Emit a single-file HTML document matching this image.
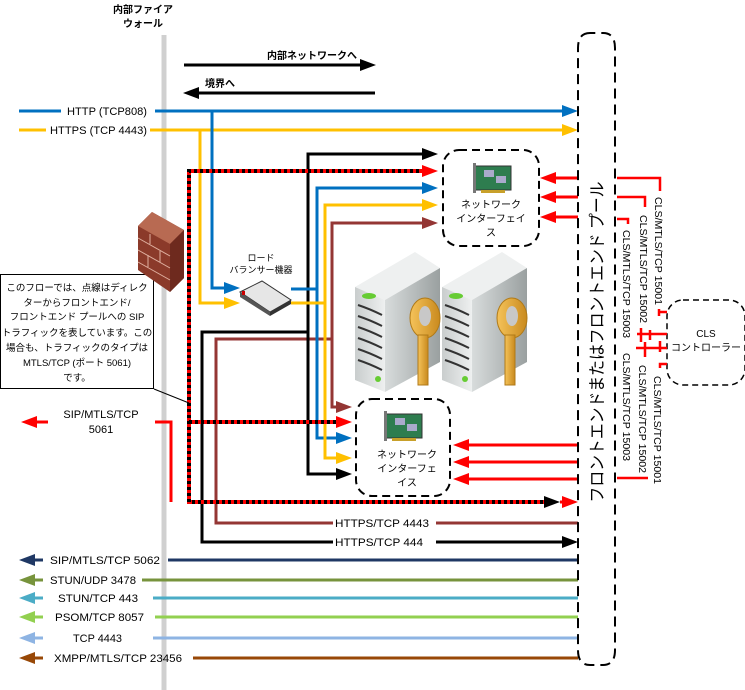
<!DOCTYPE html>
<html><head><meta charset="utf-8"><style>
html,body{margin:0;padding:0;background:#fff;}
svg{display:block;}
text{font-family:"Liberation Sans","Noto Sans CJK JP",sans-serif;fill:#000;}
</style></head><body>
<svg width="745" height="690" viewBox="0 0 745 690" xmlns="http://www.w3.org/2000/svg" font-size="11">
<defs>
<linearGradient id="srvF" x1="0" x2="1"><stop offset="0" stop-color="#d8dcdc"/><stop offset="1" stop-color="#9aa0a0"/></linearGradient>
<linearGradient id="srvS" x1="0" x2="1"><stop offset="0" stop-color="#c9cdcd"/><stop offset="1" stop-color="#eef0f0"/></linearGradient>
<linearGradient id="key" x1="0" x2="1"><stop offset="0" stop-color="#f5c35a"/><stop offset="1" stop-color="#c98a1e"/></linearGradient>
</defs>

<line x1="164" y1="35" x2="164" y2="690" stroke="#d0d0d0" stroke-width="5"/>
<text x="143" y="13" text-anchor="middle" font-weight="bold" font-size="10">内部ファイア</text>
<text x="143" y="27" text-anchor="middle" font-weight="bold" font-size="10">ウォール</text>

<line x1="184" y1="65" x2="362" y2="65" stroke="#000" stroke-width="3"/>
<polygon points="376,65 360,59 360,71" fill="#000"/>
<text x="312" y="59" text-anchor="middle" font-weight="bold" font-size="10">内部ネットワークへ</text>
<line x1="196" y1="93" x2="375" y2="93" stroke="#000" stroke-width="3"/>
<polygon points="183,93 199,87 199,99" fill="#000"/>
<text x="205" y="87" font-weight="bold" font-size="10">境界へ</text>

<line x1="19" y1="111" x2="61" y2="111" stroke="#0070c0" stroke-width="3"/>
<text x="67" y="115" textLength="80" lengthAdjust="spacingAndGlyphs">HTTP (TCP808)</text>
<line x1="155" y1="111" x2="564" y2="111" stroke="#0070c0" stroke-width="3"/>
<polygon points="578,111 562,105 562,117" fill="#0070c0"/>
<line x1="19" y1="130" x2="46" y2="130" stroke="#ffc000" stroke-width="3"/>
<text x="50" y="134" textLength="97" lengthAdjust="spacingAndGlyphs">HTTPS (TCP 4443)</text>
<line x1="150" y1="130" x2="564" y2="130" stroke="#ffc000" stroke-width="3"/>
<polygon points="578,130 562,124 562,136" fill="#ffc000"/>

<polyline points="212,111 212,288 228,288" fill="none" stroke="#0070c0" stroke-width="3"/>
<polygon points="240,288 224,282 224,294" fill="#0070c0"/>
<polyline points="200,130 200,303 228,303" fill="none" stroke="#ffc000" stroke-width="3"/>
<polygon points="240,303 224,297 224,309" fill="#ffc000"/>

<polyline points="425,223 332,223 332,407 340,407" fill="none" stroke="#943634" stroke-width="3"/>
<polygon points="438,223 422,217 422,229" fill="#943634"/>
<polygon points="352,407 336,401 336,413" fill="#943634"/>
<polyline points="332,339 216,339 216,523 333,523" fill="none" stroke="#943634" stroke-width="3"/>
<text x="335" y="527" textLength="94" lengthAdjust="spacingAndGlyphs">HTTPS/TCP 4443</text>
<line x1="436" y1="523" x2="578" y2="523" stroke="#943634" stroke-width="3"/>

<polyline points="425,154 308,154 308,474 340,474" fill="none" stroke="#000" stroke-width="3"/>
<polygon points="438,154 422,148 422,160" fill="#000"/>
<polygon points="352,474 336,468 336,480" fill="#000"/>
<polyline points="308,332 202,332 202,542 333,542" fill="none" stroke="#000" stroke-width="3"/>
<text x="335" y="546" textLength="88" lengthAdjust="spacingAndGlyphs">HTTPS/TCP 444</text>
<line x1="436" y1="542" x2="564" y2="542" stroke="#000" stroke-width="3"/>
<polygon points="578,542 562,536 562,548" fill="#000"/>

<polyline points="291,289 317,289" fill="none" stroke="#0070c0" stroke-width="3"/>
<polyline points="425,188 317,188 317,438 340,438" fill="none" stroke="#0070c0" stroke-width="3"/>
<polygon points="438,188 422,182 422,194" fill="#0070c0"/>
<polygon points="352,438 336,432 336,444" fill="#0070c0"/>
<polyline points="291,303 325,303" fill="none" stroke="#ffc000" stroke-width="3"/>
<polyline points="425,205 325,205 325,458 340,458" fill="none" stroke="#ffc000" stroke-width="3"/>
<polygon points="438,205 422,199 422,211" fill="#ffc000"/>
<polygon points="352,458 336,452 336,464" fill="#ffc000"/>

<polyline points="155,422 171,422 171,502" fill="none" stroke="#ff0000" stroke-width="3"/>
<polygon points="21,422 37,416 37,428" fill="#ff0000"/>
<line x1="37" y1="422" x2="48" y2="422" stroke="#ff0000" stroke-width="3"/>
<text x="101" y="418" text-anchor="middle">SIP/MTLS/TCP</text>
<text x="101" y="433" text-anchor="middle">5061</text>
<g fill="none" stroke-width="4">
<polyline points="425,171 189,171 189,502 545,502" stroke="#ff0000"/>
<polyline points="425,171 189,171 189,502 545,502" stroke="#000" stroke-dasharray="3,3"/>
<line x1="189" y1="422" x2="340" y2="422" stroke="#ff0000"/>
<line x1="189" y1="422" x2="340" y2="422" stroke="#000" stroke-dasharray="3,3"/>
</g>
<polygon points="438,171 422,165 422,177" fill="#ff0000"/>
<polygon points="352,422 336,416 336,428" fill="#ff0000"/>
<polygon points="560,502 544,496 544,508" fill="#000"/>
<line x1="560" y1="502" x2="566" y2="502" stroke="#ff0000" stroke-width="3"/>
<polygon points="578,502 562,496 562,508" fill="#ff0000"/>

<rect x="0.5" y="274.5" width="153" height="114" fill="#fff" stroke="#000" stroke-width="1"/>
<line x1="154" y1="389" x2="189" y2="403" stroke="#000" stroke-width="1"/>
<g text-anchor="middle" font-size="9.5">
<text x="77" y="291">このフローでは、点線はディレク</text>
<text x="77" y="306">ターからフロントエンド/</text>
<text x="77" y="320">フロントエンド プールへの SIP</text>
<text x="77" y="336">トラフィックを表しています。この</text>
<text x="77" y="351">場合も、トラフィックのタイプは</text>
<text x="77" y="366">MTLS/TCP (ポート 5061)</text>
<text x="77" y="381">です。</text>
</g>

<polygon points="138,226 152,212 184,230 184,278 170,292 138,270" fill="#8b3a2a"/>
<polygon points="138,226 152,212 184,230 170,244" fill="#b86a52"/>
<polygon points="170,244 184,230 184,278 170,292" fill="#6e2a1e"/>
<g stroke="#e0b0a0" stroke-width="1">
<line x1="138" y1="238" x2="170" y2="256"/><line x1="138" y1="250" x2="170" y2="268"/><line x1="138" y1="262" x2="170" y2="280"/>
<line x1="150" y1="234" x2="150" y2="244"/><line x1="160" y1="251" x2="160" y2="262"/><line x1="148" y1="255" x2="148" y2="267"/>
</g>

<text x="261" y="261" text-anchor="middle" font-size="9">ロード</text>
<text x="261" y="273" text-anchor="middle" font-size="9">バランサー機器</text>
<polygon points="240,292 262,281 291,300 270,312" fill="#e6e6e6" stroke="#333" stroke-width="1"/>
<polygon points="240,292 270,312 270,316 240,297" fill="#555"/>
<polygon points="270,312 291,300 291,304 270,316" fill="#333"/>
<rect x="242" y="291" width="3" height="4" fill="#c00"/>

<rect x="443" y="150" width="96" height="96" rx="16" fill="none" stroke="#000" stroke-width="2" stroke-dasharray="8,5"/>
<rect x="356" y="399" width="94" height="97" rx="16" fill="none" stroke="#000" stroke-width="2" stroke-dasharray="8,5"/>
<g>
<rect x="475" y="166" width="36" height="24" fill="#2e7d4f" stroke="#333"/>
<rect x="473" y="163" width="3" height="30" fill="#777"/>
<rect x="481" y="190" width="24" height="3" fill="#c8a02a"/>
<rect x="484" y="170" width="10" height="7" fill="#aac"/><rect x="496" y="176" width="10" height="7" fill="#aac"/>
</g>
<g>
<rect x="386" y="414" width="36" height="24" fill="#2e7d4f" stroke="#333"/>
<rect x="384" y="411" width="3" height="30" fill="#777"/>
<rect x="392" y="438" width="24" height="3" fill="#c8a02a"/>
<rect x="395" y="418" width="10" height="7" fill="#aac"/><rect x="407" y="424" width="10" height="7" fill="#aac"/>
</g>
<g text-anchor="middle" font-size="10">
<text x="491" y="208">ネットワーク</text>
<text x="491" y="222">インターフェイ</text>
<text x="491" y="236">ス</text>
<text x="407" y="458">ネットワーク</text>
<text x="407" y="472">インターフェ</text>
<text x="407" y="486">イス</text>
</g>

<g stroke="#ff0000" stroke-width="3">
<line x1="553" y1="178" x2="578" y2="178"/><line x1="553" y1="197" x2="578" y2="197"/><line x1="553" y1="217" x2="578" y2="217"/>
<line x1="466" y1="445" x2="578" y2="445"/><line x1="466" y1="462" x2="578" y2="462"/><line x1="466" y1="479" x2="578" y2="479"/>
</g>
<g fill="#ff0000">
<polygon points="540,178 556,172 556,184"/><polygon points="540,197 556,191 556,203"/><polygon points="540,217 556,211 556,223"/>
<polygon points="453,445 469,439 469,451"/><polygon points="453,462 469,456 469,468"/><polygon points="453,479 469,473 469,485"/>
</g>

<g>
<polygon points="355,287 415,252 440,268 385,300" fill="#eef0f0"/>
<polygon points="355,287 385,300 385,392 355,380" fill="url(#srvS)"/>
<polygon points="385,300 440,268 440,362 385,392" fill="url(#srvF)"/>
<g stroke="#333" stroke-width="2" fill="none">
<path d="M358,305 q12,4 24,10"/><path d="M358,316 q12,4 24,10"/><path d="M358,327 q12,4 24,10"/><path d="M358,338 q12,4 24,10"/><path d="M358,349 q12,4 24,10"/><path d="M358,360 q12,4 24,10"/>
</g>
<ellipse cx="369" cy="296" rx="7" ry="3" fill="#6c3"/>
<circle cx="378" cy="379" r="3" fill="#6c3"/>
</g>
<g>
<polygon points="442,287 502,252 527,268 472,300" fill="#eef0f0"/>
<polygon points="442,287 472,300 472,392 442,380" fill="url(#srvS)"/>
<polygon points="472,300 527,268 527,362 472,392" fill="url(#srvF)"/>
<g stroke="#333" stroke-width="2" fill="none">
<path d="M445,305 q12,4 24,10"/><path d="M445,316 q12,4 24,10"/><path d="M445,327 q12,4 24,10"/><path d="M445,338 q12,4 24,10"/><path d="M445,349 q12,4 24,10"/><path d="M445,360 q12,4 24,10"/>
</g>
<ellipse cx="456" cy="296" rx="7" ry="3" fill="#6c3"/>
<circle cx="465" cy="379" r="3" fill="#6c3"/>
</g>
<g fill="url(#key)" stroke="#b07a18" stroke-width="1">
<ellipse cx="425" cy="318" rx="15" ry="20"/>
<rect x="418" y="335" width="10" height="50"/>
<ellipse cx="512" cy="318" rx="15" ry="20"/>
<rect x="505" y="335" width="10" height="50"/>
</g>
<ellipse cx="425" cy="316" rx="6" ry="10" fill="#c8c8c8"/>
<ellipse cx="512" cy="316" rx="6" ry="10" fill="#c8c8c8"/>

<g stroke-width="3">
<line x1="35" y1="560" x2="43" y2="560" stroke="#1f3864"/><line x1="168" y1="560" x2="578" y2="560" stroke="#1f3864"/>
<line x1="35" y1="580" x2="43" y2="580" stroke="#77933c"/><line x1="142" y1="580" x2="578" y2="580" stroke="#77933c"/>
<line x1="35" y1="598" x2="43" y2="598" stroke="#4bacc6"/><line x1="153" y1="598" x2="578" y2="598" stroke="#4bacc6"/>
<line x1="35" y1="617" x2="43" y2="617" stroke="#92d050"/><line x1="155" y1="617" x2="578" y2="617" stroke="#92d050"/>
<line x1="35" y1="638" x2="43" y2="638" stroke="#8eb4e3"/><line x1="153" y1="638" x2="578" y2="638" stroke="#8eb4e3"/>
<line x1="35" y1="658" x2="43" y2="658" stroke="#984807"/><line x1="193" y1="658" x2="578" y2="658" stroke="#984807"/>
</g>
<polygon points="19,560 35,554 35,566" fill="#1f3864"/>
<polygon points="19,580 35,574 35,586" fill="#77933c"/>
<polygon points="19,598 35,592 35,604" fill="#4bacc6"/>
<polygon points="19,617 35,611 35,623" fill="#92d050"/>
<polygon points="19,638 35,632 35,644" fill="#8eb4e3"/>
<polygon points="19,658 35,652 35,664" fill="#984807"/>
<text x="50" y="564" textLength="110" lengthAdjust="spacingAndGlyphs">SIP/MTLS/TCP 5062</text>
<text x="50" y="584" textLength="86" lengthAdjust="spacingAndGlyphs">STUN/UDP 3478</text>
<text x="58" y="602" textLength="80" lengthAdjust="spacingAndGlyphs">STUN/TCP 443</text>
<text x="55" y="621" textLength="89" lengthAdjust="spacingAndGlyphs">PSOM/TCP 8057</text>
<text x="73" y="642" textLength="49" lengthAdjust="spacingAndGlyphs">TCP 4443</text>
<text x="54" y="662" textLength="128" lengthAdjust="spacingAndGlyphs">XMPP/MTLS/TCP 23456</text>

<path d="M590,33 Q578,33 578,48 L578,650 Q578,665 590,665 L603,665 Q615,665 615,650 L615,48 Q615,33 603,33 Z" fill="none" stroke="#000" stroke-width="2" stroke-dasharray="10,6"/>
<text transform="translate(603,342) rotate(-90)" text-anchor="middle" font-size="17" textLength="321" lengthAdjust="spacingAndGlyphs">フロントエンドまたはフロントエンド プール</text>

<rect x="667" y="300" width="78" height="85" rx="16" fill="none" stroke="#000" stroke-width="1.5" stroke-dasharray="6,4"/>
<text x="706" y="337" text-anchor="middle" font-size="10">CLS</text>
<text x="706" y="351" text-anchor="middle" font-size="10">コントローラー</text>
<g stroke="#ff0000" stroke-width="2.5" fill="none">
<polyline points="617,178 660,178 660,191"/>
<polyline points="617,197 645,197 645,207"/>
<polyline points="617,219 628,219 628,224"/>
<polyline points="658,312 667,312"/><line x1="659" y1="309" x2="659" y2="316"/>
<line x1="637" y1="334" x2="667" y2="334"/><line x1="636" y1="348" x2="667" y2="348"/>
<line x1="641" y1="328" x2="641" y2="342"/><line x1="650" y1="330" x2="650" y2="340"/><line x1="645" y1="342" x2="645" y2="357"/><line x1="660" y1="341" x2="660" y2="352"/>
<polyline points="667,364 660,364 660,368"/>
<line x1="617" y1="478" x2="648" y2="478"/>
</g>
<g font-size="10">
<text transform="translate(655,197) rotate(90)" textLength="108" lengthAdjust="spacingAndGlyphs">CLS/MTLS/TCP 15001</text>
<text transform="translate(640,215) rotate(90)" textLength="108" lengthAdjust="spacingAndGlyphs">CLS/MTLS/TCP 15002</text>
<text transform="translate(623,230) rotate(90)" textLength="108" lengthAdjust="spacingAndGlyphs">CLS/MTLS/TCP 15003</text>
<text transform="translate(623,353) rotate(90)" textLength="108" lengthAdjust="spacingAndGlyphs">CLS/MTLS/TCP 15003</text>
<text transform="translate(639,365) rotate(90)" textLength="108" lengthAdjust="spacingAndGlyphs">CLS/MTLS/TCP 15002</text>
<text transform="translate(654,376) rotate(90)" textLength="108" lengthAdjust="spacingAndGlyphs">CLS/MTLS/TCP 15001</text>
</g>
</svg>
</body></html>
